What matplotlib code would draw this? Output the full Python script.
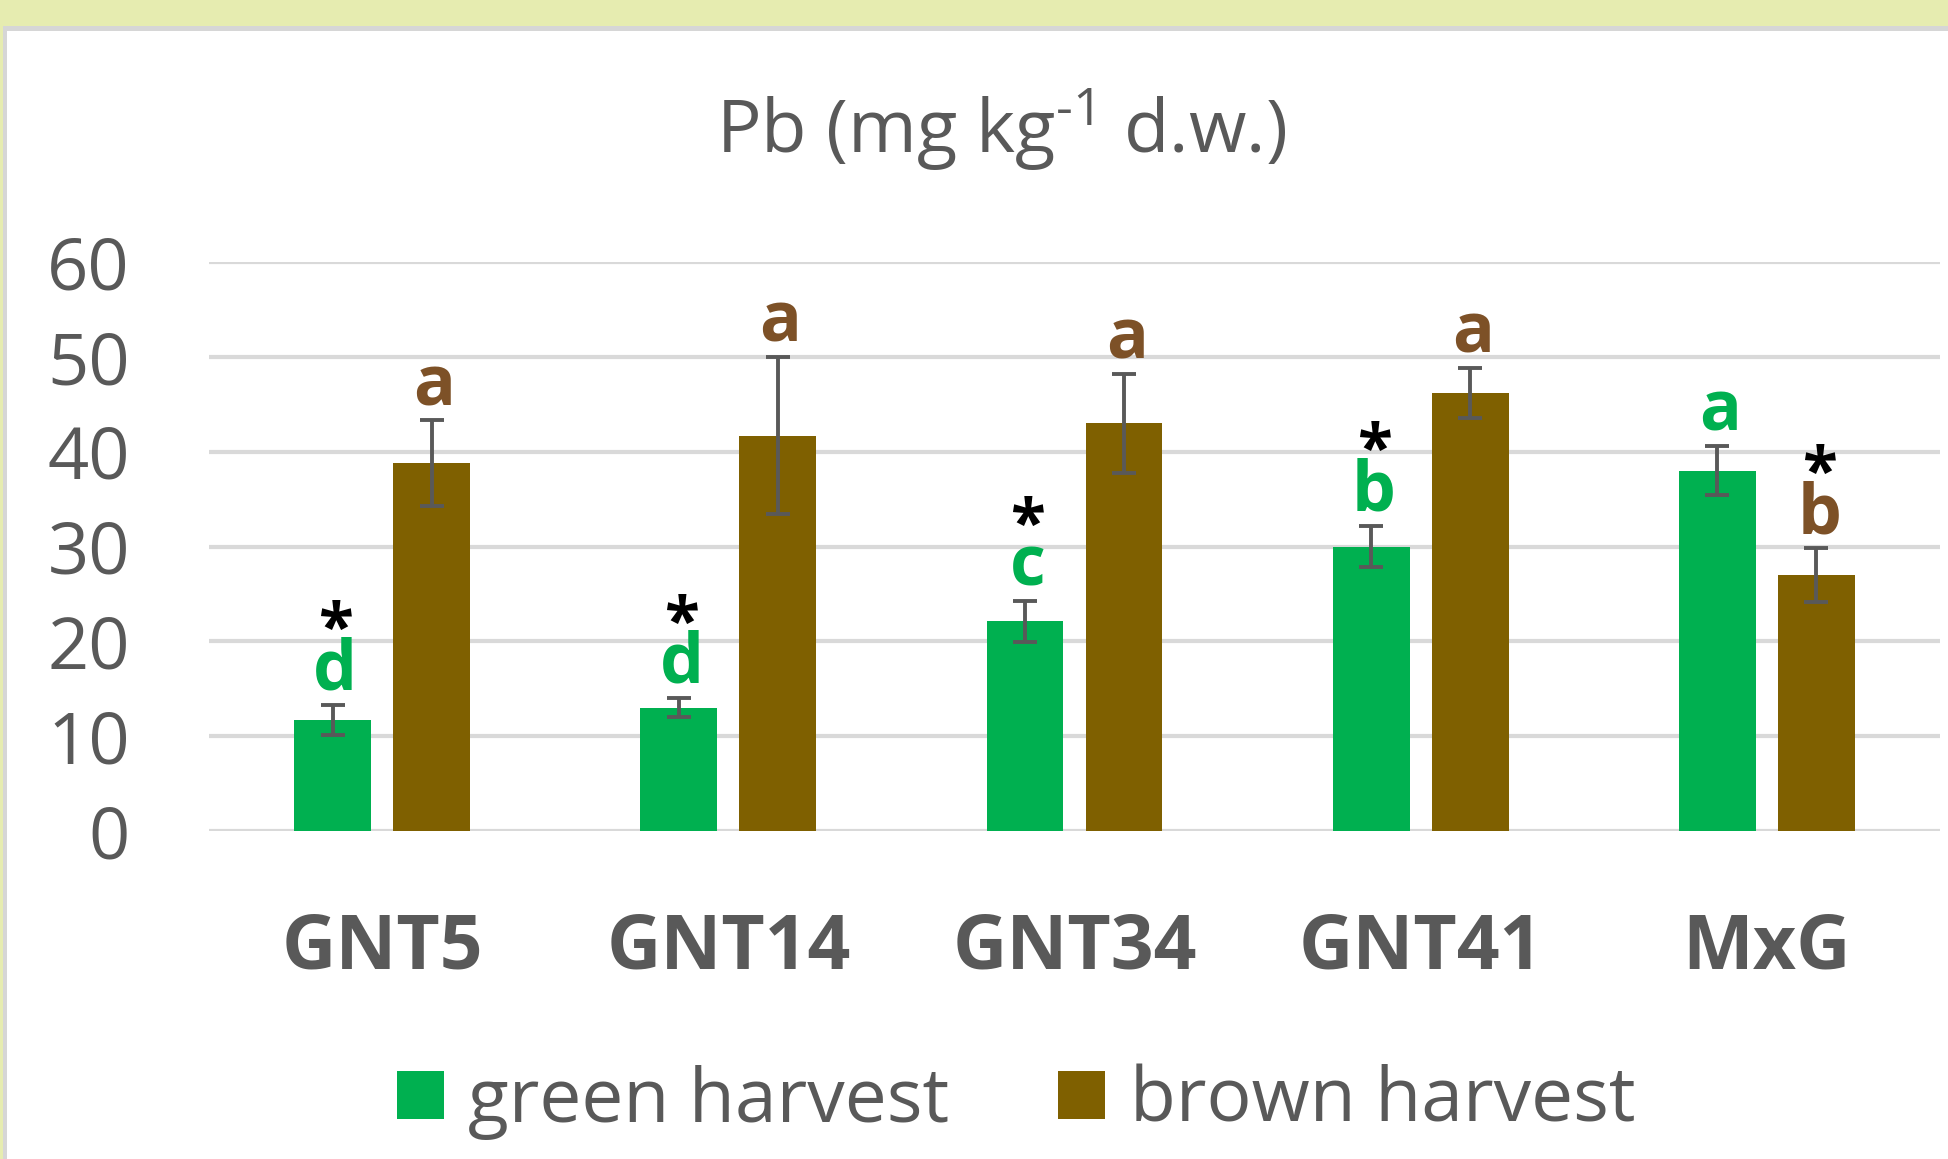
import matplotlib
matplotlib.use("Agg")
import matplotlib.pyplot as plt
from matplotlib.patches import Patch, Rectangle
import numpy as np

# ---------------- data ----------------
categories = ["GNT5", "GNT14", "GNT34", "GNT41", "MxG"]
green_mean = [11.7, 13.0, 22.1, 30.0, 38.0]
green_err = [1.6, 1.0, 2.2, 2.2, 2.6]
brown_mean = [38.8, 41.7, 43.0, 46.2, 27.0]
brown_err = [4.5, 8.3, 5.2, 2.6, 2.8]
green_letters = ["d", "d", "c", "b", "a"]
brown_letters = ["a", "a", "a", "a", "b"]
green_star = [True, True, True, True, False]
brown_star = [False, False, False, False, True]
series_labels = ["green harvest", "brown harvest"]
yticks = [0, 10, 20, 30, 40, 50, 60]

# ---------------- style ----------------
FONT = "Open Sans"
plt.rcParams["font.family"] = [FONT, "DejaVu Sans"]
plt.rcParams["mathtext.default"] = "regular"
plt.rcParams["mathtext.fontset"] = "custom"
plt.rcParams["mathtext.rm"] = FONT
GREEN = "#00B050"
BROWN = "#7F6000"
BROWN_TXT = "#7D5127"
GREY_TXT = "#595959"
GRID = "#D9D9D9"
ERR = "#595959"

W, H = 1948, 1159
fig = plt.figure(figsize=(W / 100, H / 100), dpi=100, facecolor="white")

# frame decoration (top band + border)
fig.patches.append(Rectangle((0, 1 - 26 / H), 1, 26 / H, transform=fig.transFigure,
                             facecolor="#E6ECB0", edgecolor="none", zorder=0))
fig.patches.append(Rectangle((0, 0), 3 / W, 1, transform=fig.transFigure,
                             facecolor="#E6ECB0", edgecolor="none", zorder=0))
fig.patches.append(Rectangle((3 / W, 0), 4 / W, 1 - 26 / H, transform=fig.transFigure,
                             facecolor="#D6D6D6", edgecolor="none", zorder=0))
fig.patches.append(Rectangle((3 / W, 1 - 31 / H), 1 - 3 / W, 5 / H, transform=fig.transFigure,
                             facecolor="#D6D6D6", edgecolor="none", zorder=0))

ax = fig.add_axes([209 / W, 1 - 831 / H, (1940 - 209) / W, (831 - 262) / H])
ax.set_facecolor("none")

x = np.arange(len(categories))
bw = 0.222
off = 0.143

ekw = dict(ecolor=ERR, elinewidth=2.8, capsize=8.5, capthick=2.8)
ax.bar(x - off, green_mean, bw, color=GREEN, yerr=green_err, error_kw=ekw, zorder=3)
ax.bar(x + off, brown_mean, bw, color=BROWN, yerr=brown_err, error_kw=ekw, zorder=3)

ax.set_xlim(-0.5, len(categories) - 0.5)
ax.set_ylim(0, 60)
ax.set_yticks(yticks)
ax.set_yticklabels([str(t) for t in yticks])
ax.yaxis.grid(True, color=GRID, linewidth=3, zorder=0)
ax.set_axisbelow(True)
for s in ax.spines.values():
    s.set_visible(False)
ax.tick_params(axis="y", length=0, pad=57, labelsize=52, labelcolor=GREY_TXT)
ax.set_xticks(x)
ax.set_xticklabels(categories, fontweight="bold")
ax.tick_params(axis="x", length=0, pad=58, labelsize=54, labelcolor=GREY_TXT)

# significance letters and asterisks
for means, errs, letters, stars, sign, col in [
    (green_mean, green_err, green_letters, green_star, -1, GREEN),
    (brown_mean, brown_err, brown_letters, brown_star, 1, BROWN_TXT),
]:
    for i, (m, e, l, st) in enumerate(zip(means, errs, letters, stars)):
        xi = x[i] + sign * off
        ax.annotate(l, xy=(xi, m + e), xytext=(2, 11), textcoords="offset points",
                    ha="center", va="baseline", fontsize=50, fontweight="bold",
                    color=col, zorder=5)
        if st:
            ax.annotate("*", xy=(xi, m + e), xytext=(2, 40), textcoords="offset points",
                        ha="center", va="baseline", fontsize=46, fontweight="bold",
                        color="black", zorder=5)

# title
fig.text(0.514, 1 - 152 / H, r"Pb (mg kg$^{\text{-}1}$ d.w.)", ha="center", va="baseline",
         fontsize=53.5, color=GREY_TXT)

# legend
handles = [Patch(facecolor=GREEN, edgecolor="none"), Patch(facecolor=BROWN, edgecolor="none")]
leg = fig.legend(handles, series_labels, loc="center", bbox_to_anchor=(0.5216, 0.049),
                 ncol=2, frameon=False, fontsize=54, handlelength=0.62, handleheight=0.60,
                 handletextpad=0.33, columnspacing=1.45, borderpad=0)
for t in leg.get_texts():
    t.set_color(GREY_TXT)

fig.savefig("out.png", dpi=100, facecolor="white")
